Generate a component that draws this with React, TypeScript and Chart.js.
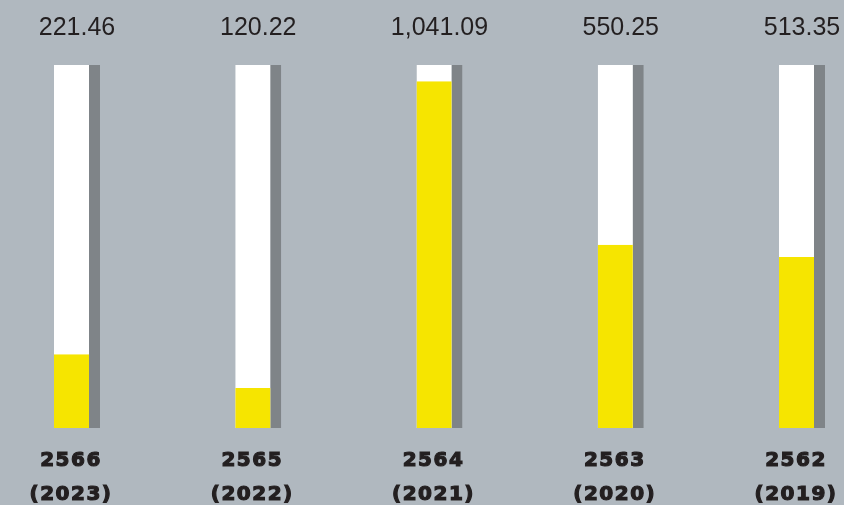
import React, { useEffect, useRef } from "react";
import { Chart, registerables } from "chart.js";

Chart.register(...registerables);

const buddhistYears = ["2566", "2565", "2564", "2563", "2562"];
const gregorianYears = ["(2023)", "(2022)", "(2021)", "(2020)", "(2019)"];
const values = [221.46, 120.22, 1041.09, 550.25, 513.35];
const scaleMax = 1090;
const fullBars = values.map(() => scaleMax);

const BG = "#b0b8bf";
const SHADOW = "#7f8488";
const YELLOW = "#f6e500";
const TEXT = "#231f20";

const fmt = (v: number) =>
  v.toLocaleString("en-US", { minimumFractionDigits: 2, maximumFractionDigits: 2 });

const labelPlugin = {
  id: "labelPlugin",
  beforeDraw(chart: any) {
    const ctx = chart.ctx;
    ctx.save();
    ctx.fillStyle = BG;
    ctx.fillRect(0, 0, chart.width, chart.height);
    ctx.restore();
    (ctx as any).letterSpacing = "1.5px";
  },
  afterDatasetsDraw(chart: any) {
    const ctx = chart.ctx;
    const meta = chart.getDatasetMeta(1);
    ctx.save();
    (ctx as any).letterSpacing = "0px";
    ctx.font = "25px 'Liberation Sans', Arial, sans-serif";
    ctx.fillStyle = TEXT;
    ctx.textAlign = "center";
    ctx.textBaseline = "alphabetic";
    meta.data.forEach((el: any, i: number) => {
      ctx.fillText(fmt(values[i]), el.x, chart.chartArea.top - 30);
    });
    ctx.restore();
  },
  afterDraw(chart: any) {
    (chart.ctx as any).letterSpacing = "0px";
  },
};

export default function App() {
  const ref = useRef<HTMLCanvasElement>(null);
  useEffect(() => {
    if (!ref.current) return;
    const chart = new Chart(ref.current, {
      type: "bar",
      data: {
        labels: buddhistYears.map((b, i) => [b, gregorianYears[i]]),
        datasets: [
          {
            data: values,
            backgroundColor: YELLOW,
            borderColor: "rgba(0,0,0,0)",
            borderWidth: { top: 0, right: 11, bottom: 0, left: 0 },
            borderSkipped: false,
            barThickness: 46,
            grouped: false,
            clip: false,
            inflateAmount: 0,
          } as any,
          {
            data: fullBars,
            backgroundColor: "#ffffff",
            borderColor: SHADOW,
            borderWidth: { top: 0, right: 11, bottom: 0, left: 0 },
            borderSkipped: false,
            barThickness: 46,
            grouped: false,
            clip: false,
            inflateAmount: 0,
          } as any,
        ],
      },
      options: {
        responsive: false,
        animation: false,
        layout: { padding: { top: 65, left: 77, right: 42, bottom: 0 } },
        plugins: {
          legend: { display: false },
          tooltip: { enabled: false },
        },
        scales: {
          x: {
            offset: false,
            grid: { display: false },
            border: { display: false },
            ticks: {
              autoSkip: false,
              maxRotation: 0,
              minRotation: 0,
              padding: 8,
              labelOffset: -6,
              color: TEXT,
              textStrokeColor: TEXT,
              textStrokeWidth: 1.2,
              font: {
                family: "'DejaVu Sans', sans-serif",
                weight: "bold",
                size: 20,
                lineHeight: "34px",
              },
            } as any,
            afterFit: (scale: any) => {
              scale.height = 77;
              scale.paddingLeft = 0;
              scale.paddingRight = 0;
            },
          },
          y: {
            display: false,
            min: 0,
            max: scaleMax,
          },
        },
      },
      plugins: [labelPlugin],
    });
    return () => chart.destroy();
  }, []);

  return (
    <div
      style={{
        position: "fixed",
        left: 0,
        top: 0,
        width: 844,
        height: 505,
        background: BG,
      }}
    >
      <canvas ref={ref} width={844} height={505} style={{ display: "block" }} />
    </div>
  );
}
